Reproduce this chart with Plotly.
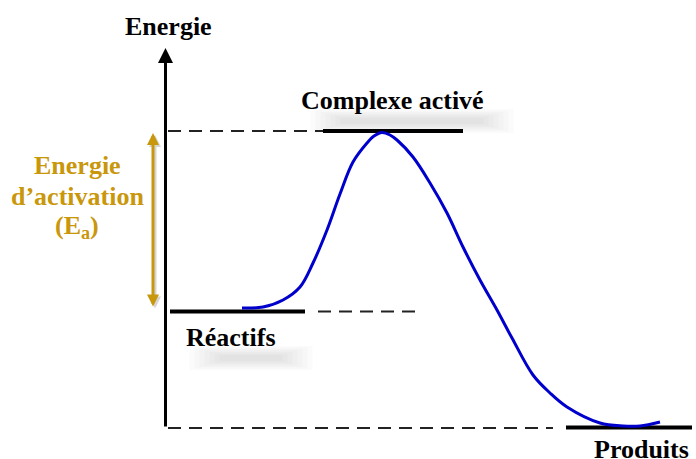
import plotly.graph_objects as go

# Coordinate system: x in pixel-like units (0..696), energy E = 459 - pixel_y
W, H = 696, 459

# Energy levels
level_names = ["Réactifs", "Complexe activé", "Produits"]
level_E = [147.5, 328, 31.5]
level_x0 = [170, 323, 566]
level_x1 = [305, 463, 692]

# Dashed guide lines (x start, x end, energy)
guide_x0 = [168, 318, 168]
guide_x1 = [323, 417, 553]
guide_E = [328, 147.5, 31]

# Reaction curve
curve_x = [242, 263, 283, 300, 313, 327, 340, 353, 367, 374, 382, 390, 397, 413, 430, 447, 463, 480, 497, 512, 533, 550, 567, 600, 623, 640, 660]
curve_y_px = [308, 307, 300, 287, 263, 230, 194, 162, 143, 136, 132.5, 135, 140, 157, 183, 213, 247, 280, 310, 338, 375, 393, 407, 423, 426, 426, 422]
curve_E = [H - v for v in curve_y_px]

# Axis
axis_x = 165.5
axis_E0, axis_E1 = 31, 411

# Activation energy arrow
ea_x = 153
ea_E0, ea_E1 = 151, 326

# Label positions (x, E)
labels = [
    ("Energie", 168, H - 26, "black"),
    ("Complexe activé", 392, H - 100, "black"),
    ("Réactifs", 231, H - 337, "black"),
    ("Produits", 641, H - 449, "black"),
    ("Energie", 77, H - 165, "gold"),
    ("d’activation", 77, H - 196, "gold"),
    ("(E<sub>a</sub>)", 77, H - 227, "gold"),
]
# labels carrying a soft drop shadow: (label index, shadow width)
shadowed = [(1, 175), (2, 95), (3, 90)]

FONT = "Liberation Serif"
GOLD = "#C9970C"
BLUE = "#0000CC"
FS = 26

fig = go.Figure()

# soft shadows (layered translucent rectangles)
for idx, sw in shadowed:
    _, lx, le, _ = labels[idx]
    cx, ce = lx + 20, le - 21
    for k in range(7):
        hw = sw / 2 + 14 - 5 * k
        hh = 12 - 1.5 * k
        fig.add_shape(type="rect", xref="x", yref="y", x0=cx - hw, x1=cx + hw,
                      y0=ce - hh, y1=ce + hh, fillcolor="rgba(120,120,120,0.028)",
                      line=dict(width=0), layer="below")

# dashed guides
for x0, x1, e in zip(guide_x0, guide_x1, guide_E):
    fig.add_trace(go.Scatter(x=[x0, x1], y=[e, e], mode="lines",
                             line=dict(color="#222222", width=2, dash="13px,8px"),
                             hoverinfo="skip", showlegend=False))

# solid levels
for x0, x1, e in zip(level_x0, level_x1, level_E):
    fig.add_trace(go.Scatter(x=[x0, x1], y=[e, e], mode="lines",
                             line=dict(color="black", width=4),
                             hoverinfo="skip", showlegend=False))

# curve
fig.add_trace(go.Scatter(x=curve_x, y=curve_E, mode="lines",
                         line=dict(color=BLUE, width=3, shape="spline", smoothing=1.0),
                         hoverinfo="skip", showlegend=False))

# vertical axis with arrow
fig.add_annotation(x=axis_x, y=axis_E1, ax=axis_x, ay=axis_E0, xref="x", yref="y",
                   axref="x", ayref="y", text="", showarrow=True, arrowhead=2,
                   arrowsize=1, arrowwidth=3, arrowcolor="black")

# activation energy arrow shadow + arrow
fig.add_annotation(x=ea_x + 2, y=ea_E1 - 2, ax=ea_x + 2, ay=ea_E0 - 2, xref="x", yref="y",
                   axref="x", ayref="y", text="", showarrow=True, arrowhead=2,
                   arrowside="end+start", arrowsize=0.8, arrowwidth=3,
                   arrowcolor="rgba(120,120,120,0.3)")
fig.add_annotation(x=ea_x, y=ea_E1, ax=ea_x, ay=ea_E0, xref="x", yref="y",
                   axref="x", ayref="y", text="", showarrow=True, arrowhead=2,
                   arrowside="end+start", arrowsize=0.8, arrowwidth=3,
                   arrowcolor=GOLD)

for txt, lx, le, col in labels:
    fig.add_annotation(x=lx, y=le, xref="x", yref="y", text=f"<b>{txt}</b>",
                       showarrow=False, xanchor="center", yanchor="middle",
                       font=dict(family=FONT, size=FS,
                                 color=GOLD if col == "gold" else "black"))

fig.update_layout(
    width=W, height=H, margin=dict(l=0, r=0, t=0, b=0),
    paper_bgcolor="white", plot_bgcolor="white",
    xaxis=dict(range=[0, W], visible=False, fixedrange=True),
    yaxis=dict(range=[0, H], visible=False, fixedrange=True),
    showlegend=False,
)

fig.write_html("out.html", config={"displayModeBar": False},
               post_script="document.body.style.margin='0';document.body.style.overflow='hidden';")
